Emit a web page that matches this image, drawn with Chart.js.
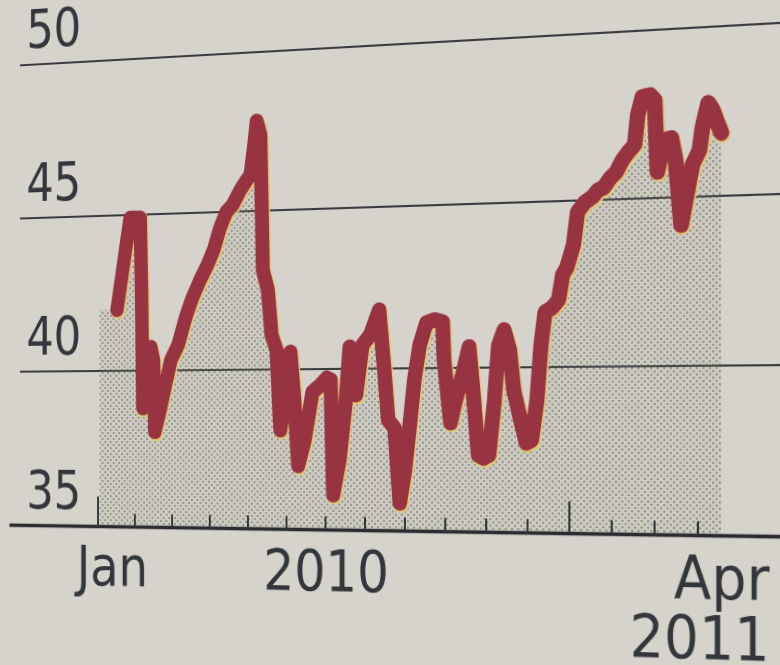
<!DOCTYPE html>
<html><head><meta charset="utf-8">
<script src="https://cdn.jsdelivr.net/npm/chart.js@4/dist/chart.umd.min.js"></script>
<style>
html,body{margin:0;padding:0;width:780px;height:665px;overflow:hidden;background:#d5d3cc;}
#wrap{position:absolute;left:0;top:0;width:780px;height:665px;transform-origin:0 0;}
canvas{display:block;}
</style></head><body>
<div id="wrap"><canvas id="c" width="780" height="665"></canvas></div>
<script>
// ---- data ----
const dates = [
'2010-01-17','2010-01-23','2010-01-28','2010-02-05','2010-02-06','2010-02-07','2010-02-11','2010-02-13','2010-02-15','2010-02-16','2010-02-20','2010-02-24','2010-02-28',
'2010-03-06','2010-03-12','2010-03-17','2010-03-24','2010-03-30',
'2010-04-04','2010-04-09','2010-04-14','2010-04-19','2010-04-25','2010-04-29',
'2010-05-03','2010-05-06','2010-05-08','2010-05-11','2010-05-12','2010-05-13','2010-05-17','2010-05-20','2010-05-24','2010-05-27','2010-05-31',
'2010-06-04','2010-06-07','2010-06-10','2010-06-15','2010-06-21','2010-06-27',
'2010-07-02','2010-07-05','2010-07-07','2010-07-12','2010-07-17','2010-07-20','2010-07-25','2010-07-30',
'2010-08-05','2010-08-12','2010-08-16','2010-08-19','2010-08-24','2010-08-28',
'2010-09-01','2010-09-05','2010-09-08','2010-09-12','2010-09-17','2010-09-23','2010-09-29','2010-09-30',
'2010-10-05','2010-10-08','2010-10-14','2010-10-19','2010-10-22','2010-10-26','2010-10-30',
'2010-11-03','2010-11-07','2010-11-10','2010-11-14','2010-11-18','2010-11-21','2010-11-26','2010-11-30',
'2010-12-04','2010-12-08','2010-12-11','2010-12-14','2010-12-19','2010-12-24','2010-12-27','2010-12-30',
'2011-01-04','2011-01-07','2011-01-12','2011-01-18','2011-01-22','2011-01-26','2011-01-31',
'2011-02-04','2011-02-08','2011-02-12','2011-02-16','2011-02-18','2011-02-21','2011-02-26',
'2011-03-01','2011-03-03','2011-03-08','2011-03-13','2011-03-16','2011-03-20','2011-03-24','2011-03-28',
'2011-04-02','2011-04-04','2011-04-08','2011-04-11','2011-04-14','2011-04-17'];
const values = [
41.97,43.57,44.91,44.90,42.59,38.81,39.71,40.76,40.35,38.05,38.75,39.55,40.34,
40.82,41.67,42.24,42.87,43.34,
43.81,44.50,45.00,45.22,45.68,45.93,
46.14,47.08,47.83,47.39,45.34,43.14,42.51,41.09,40.62,38.11,39.21,
40.55,39.05,36.99,37.80,39.30,39.51,
39.73,39.67,36.09,37.18,39.04,40.69,39.20,40.75,
41.05,41.82,39.96,38.42,38.17,35.86,
36.88,38.42,39.65,40.72,41.40,41.49,41.42,40.26,
38.33,38.88,39.79,40.65,39.33,37.35,37.26,
37.35,39.03,40.69,41.15,40.54,39.32,38.42,37.72,
37.81,39.02,40.68,41.67,41.79,42.03,42.78,42.99,
43.68,44.66,44.93,45.10,45.30,45.36,45.65,
45.82,46.17,46.41,46.61,47.49,48.03,48.07,
47.92,45.78,46.72,46.77,46.11,44.18,45.07,45.95,
46.38,47.03,47.76,47.55,47.19,46.86];
const fillStartDate = '2010-01-02';
const yMin = 35, yMax = 50, yStep = 5;
const xTickDates = ['2010-01-01','2010-02-01','2010-03-01','2010-04-01','2010-05-01','2010-06-01','2010-07-01','2010-08-01',
  '2010-09-01','2010-10-01','2010-11-01','2010-12-01','2011-01-01','2011-02-01','2011-03-01','2011-04-01'];
const xMajorTickDates = ['2010-01-01','2011-01-01'];
const xLabelTexts = [['Jan'], ['2010']];
const xLabelAnchors = ['2010-01-13', '2010-07-01'];
const endLabelText = ['Apr', '2011'];

// ---- helpers ----
function monthIndex(s){
  const [Y,M,D] = s.split('-').map(Number);
  const dim = new Date(Y, M, 0).getDate();
  return (Y-2010)*12 + (M-1) + (D-1)/dim;
}
const INK = '#33363a';
const RED = '#983341';
const HALO = 'rgba(228,198,112,0.95)';
const FONT = "'Liberation Sans Narrow','DejaVu Sans Condensed','Arial Narrow',sans-serif";

// dotted screen pattern for the area fill
function makePattern(){
  const p = document.createElement('canvas'); p.width = 6; p.height = 6;
  const g = p.getContext('2d');
  g.fillStyle = 'rgba(160,160,135,0.16)'; g.fillRect(0,0,6,6);
  g.fillStyle = 'rgba(80,80,70,0.6)';
  g.beginPath(); g.arc(1,1,0.95,0,Math.PI*2); g.fill();
  g.beginPath(); g.arc(4,4,0.95,0,Math.PI*2); g.fill();
  return document.getElementById('c').getContext('2d').createPattern(p,'repeat');
}

const lineData = dates.map((s,i)=>({x: monthIndex(s), y: values[i]}));
const fillData = [{x: monthIndex(fillStartDate), y: values[0]}].concat(lineData);

const haloShift = {
  id:'haloShift',
  beforeDatasetDraw(chart,args){ if(args.index===1){ chart.ctx.save(); chart.ctx.translate(1,1.5);} },
  afterDatasetDraw(chart,args){ if(args.index===1){ chart.ctx.restore(); } }
};

const axisDecor = {
  id:'axisDecor',
  afterDatasetsDraw(chart){
    const {ctx, scales:{x,y}, chartArea} = chart;
    const base = y.getPixelForValue(yMin);
    ctx.save();
    // baseline axis
    ctx.strokeStyle = '#2a2c30'; ctx.lineWidth = 3.5;
    ctx.beginPath(); ctx.moveTo(0, base); ctx.lineTo(chart.width, base); ctx.stroke();
    // month ticks pointing up
    ctx.lineWidth = 2; ctx.strokeStyle = INK;
    xTickDates.forEach(d=>{
      const px = x.getPixelForValue(monthIndex(d));
      const len = xMajorTickDates.includes(d) ? 30 : 13;
      ctx.beginPath(); ctx.moveTo(px, base); ctx.lineTo(px, base-len); ctx.stroke();
    });
    // labels
    ctx.fillStyle = INK; ctx.font = '56px ' + FONT; ctx.textBaseline = 'alphabetic';
    ctx.textAlign = 'center';
    xLabelTexts.forEach((lines,i)=>{
      const px = x.getPixelForValue(monthIndex(xLabelAnchors[i]));
      lines.forEach((t,j)=>ctx.fillText(t, px, base + 58 + j*53));
    });
    ctx.textAlign = 'right';
    endLabelText.forEach((t,j)=>ctx.fillText(t, chartArea.right - 17, base + 57 + j*55));
    ctx.restore();
  }
};

const ctx = document.getElementById('c').getContext('2d');
new Chart(ctx, {
  type:'line',
  data:{ datasets:[
    {data:lineData, borderColor:RED, borderWidth:14.5, borderCapStyle:'round', borderJoinStyle:'round',
     pointRadius:0, fill:false, tension:0, order:0},
    {data:lineData, borderColor:HALO, borderWidth:15.5, borderCapStyle:'round', borderJoinStyle:'round',
     pointRadius:0, fill:false, tension:0, order:1},
    {data:fillData, borderColor:'rgba(0,0,0,0)', borderWidth:0, backgroundColor:makePattern(),
     pointRadius:0, fill:'start', tension:0, order:2}
  ]},
  options:{
    responsive:false, animation:false, devicePixelRatio:1,
    layout:{padding:{left:12, right:0, top:61, bottom:138.5}},
    plugins:{legend:{display:false}, tooltip:{enabled:false}},
    scales:{
      x:{type:'linear', display:false, min:-2.15, max:17.05},
      y:{min:yMin, max:yMax,
         afterFit(s){ s.width = 0; },
         border:{display:false},
         grid:{color:c=> (c.tick && c.tick.value===yMin) ? 'rgba(0,0,0,0)' : '#3a3c40', lineWidth:2, drawTicks:false},
         ticks:{stepSize:yStep, mirror:true, padding:7, labelOffset:-31, color:INK,
                font:{family:FONT, size:53}}}
    }
  },
  plugins:[haloShift, axisDecor]
});

// photographic perspective of the printed page (flat chart -> photo)
function solveHomography(src, dst){
  const A=[], B=[];
  for(let i=0;i<4;i++){
    const [x,y]=src[i], [X,Y]=dst[i];
    A.push([x,y,1,0,0,0,-x*X,-y*X]); B.push(X);
    A.push([0,0,0,x,y,1,-x*Y,-y*Y]); B.push(Y);
  }
  const n=8;
  for(let i=0;i<n;i++){
    let p=i; for(let r=i+1;r<n;r++) if(Math.abs(A[r][i])>Math.abs(A[p][i])) p=r;
    [A[i],A[p]]=[A[p],A[i]]; [B[i],B[p]]=[B[p],B[i]];
    for(let r=0;r<n;r++){ if(r===i) continue; const f=A[r][i]/A[i][i];
      for(let c=i;c<n;c++) A[r][c]-=f*A[i][c]; B[r]-=f*B[i]; }
  }
  return B.map((b,i)=>b/A[i][i]);
}
const H = solveHomography(
  [[98,61],[698,61],[98,526.5],[698,526.5]],
  [[98,61],[698,27.5],[98,526.5],[698,535.5]]);
const [a,b,c,d,e,f,g,h] = H;
document.getElementById('wrap').style.transform =
  `matrix3d(${a},${d},0,${g},${b},${e},0,${h},0,0,1,0,${c},${f},0,1)`;
</script>
</body></html>
